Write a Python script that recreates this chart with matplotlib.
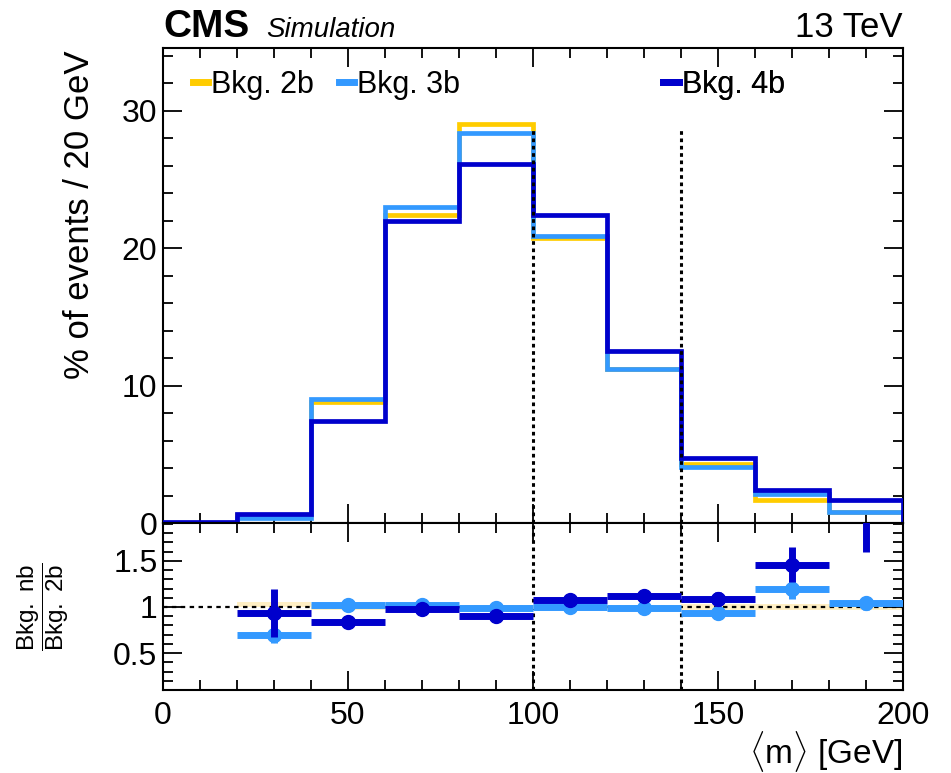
import numpy as np
import matplotlib
matplotlib.use("Agg")
import matplotlib.pyplot as plt
from matplotlib.lines import Line2D
from matplotlib.ticker import MultipleLocator

plt.rcParams["font.family"] = ["Liberation Sans", "DejaVu Sans"]
plt.rcParams["mathtext.fontset"] = "custom"
plt.rcParams["mathtext.rm"] = "Liberation Sans"
plt.rcParams["mathtext.it"] = "Liberation Sans:italic"

# Bin edges of <m> [GeV]
bin_edges = [0, 20, 40, 60, 80, 100, 120, 140, 160, 180, 200]

# % of events per bin
bkg_2b = [0.0, 0.6, 8.8, 22.4, 29.0, 20.7, 11.2, 4.3, 1.7, 0.78]
bkg_3b = [0.0, 0.4, 9.0, 23.0, 28.4, 20.9, 11.2, 4.1, 2.1, 0.80]
bkg_4b = [0.1, 0.65, 7.4, 22.0, 26.1, 22.4, 12.5, 4.7, 2.4, 1.65]

# ratio points to Bkg. 2b (bin centres 30..190)
ratio_x = [30, 50, 70, 90, 110, 130, 150, 170, 190]
ratio_3b = [0.70, 1.02, 1.02, 0.99, 1.00, 0.985, 0.93, 1.19, 1.04]
ratio_3b_err = [0.09, 0.02, 0.02, 0.02, 0.02, 0.02, 0.03, 0.10, 0.07]
ratio_4b = [0.93, 0.835, 0.98, 0.905, 1.08, 1.115, 1.085, 1.46, 2.15]
ratio_4b_err = [0.26, 0.02, 0.02, 0.02, 0.02, 0.02, 0.08, 0.19, 0.55]
# uncertainty band of Bkg. 2b around 1
band_lo = [1.00, 0.97, 0.98, 0.98, 0.98, 0.98, 0.97, 0.97, 0.97]
band_hi = [1.05, 1.03, 1.02, 1.02, 1.02, 1.02, 1.03, 1.03, 1.03]

signal_edges = [100, 140]

c_2b = "#FFCC00"
c_3b = "#3399FF"
c_4b = "#0000CC"

fig = plt.figure(figsize=(9.51, 7.73), dpi=100)
ax = fig.add_axes([0.1714, 0.3234, 0.7781, 0.6145])
rax = fig.add_axes([0.1714, 0.1074, 0.7781, 0.2160], sharex=ax)

edges = np.array(bin_edges)
ax.stairs(bkg_2b, edges, color=c_2b, lw=3.4, zorder=3)
ax.stairs(bkg_3b, edges, color=c_3b, lw=3.4, zorder=4)
ax.stairs(bkg_4b, edges, color=c_4b, lw=3.4, zorder=5)

for xv in signal_edges:
    ax.plot([xv, xv], [0, 28.8], color="black", ls=(0, (1.2, 1.2)), lw=2.2, zorder=6)
    rax.axvline(xv, color="black", ls=(0, (1.2, 1.2)), lw=2.2, zorder=1)

ax.set_xlim(0, 200)
ax.set_ylim(0, 34.55)

# ratio panel
rx = np.array(ratio_x)
rax.fill_between(edges[1:], np.r_[band_lo[0], band_lo], np.r_[band_hi[0], band_hi],
                 step="pre", color="#FFEFC4", lw=0, zorder=1)
rax.axhline(1.0, color="black", ls=(0, (2, 2)), lw=1.6, zorder=2)
rax.errorbar(rx, ratio_3b, xerr=10, yerr=ratio_3b_err, fmt="o", color=c_3b,
             ms=10, elinewidth=5, capsize=0, zorder=3)
rax.errorbar(rx, ratio_4b, xerr=10, yerr=ratio_4b_err, fmt="o", color=c_4b,
             ms=10, elinewidth=5, capsize=0, zorder=4)
rax.set_ylim(0.1, 1.91)

for a in (ax, rax):
    a.tick_params(which="both", direction="in", top=True, right=True,
                  labelsize=23, width=1.3)
    a.tick_params(which="major", length=14)
    a.tick_params(which="minor", length=7)
    a.tick_params(axis="y", pad=4)
    a.tick_params(axis="x", pad=8)
    for s in a.spines.values():
        s.set_linewidth(1.5)
    a.xaxis.set_major_locator(MultipleLocator(50))
    a.xaxis.set_minor_locator(MultipleLocator(10))

ax.yaxis.set_major_locator(MultipleLocator(10))
ax.yaxis.set_minor_locator(MultipleLocator(2))
rax.yaxis.set_major_locator(MultipleLocator(0.5))
rax.yaxis.set_minor_locator(MultipleLocator(0.1))
rax.set_yticks([0.5, 1.0, 1.5])
rax.set_yticklabels(["0.5", "1", "1.5"])
plt.setp(ax.get_xticklabels(), visible=False)

# legends (three separate entries, uneven spacing like the original)
for label, col, xpos in [("Bkg. 2b", c_2b, 0.040), ("Bkg. 3b", c_3b, 0.238),
                         ("Bkg. 4b", c_4b, 0.676)]:
    h = Line2D([], [], color=col, lw=5)
    leg = ax.legend([h], [label], loc="center left", bbox_to_anchor=(xpos, 0.922),
                    frameon=False, fontsize=22, handlelength=0.5,
                    handletextpad=0.1, borderpad=0, borderaxespad=0)
    ax.add_artist(leg)

fig.text(0.1714, 0.952, "CMS", fontsize=28, fontweight="bold", ha="left", va="baseline")
fig.text(0.2800, 0.952, "Simulation", fontsize=20, style="italic", ha="left", va="baseline")
fig.text(0.9495, 0.952, "13 TeV", fontsize=25, ha="right", va="baseline")

fig.text(0.084, 0.935, "% of events / 20 GeV", fontsize=25, rotation=90,
         ha="center", va="top")
fig.text(0.045, 0.215, r"$\dfrac{\mathrm{Bkg.\ nb}}{\mathrm{Bkg.\ 2b}}$", fontsize=17.5,
         rotation=90, ha="center", va="center")
fig.text(0.9495, 0.057, r"$\langle\mathrm{m}\rangle$ [GeV]", fontsize=24,
         ha="right", va="top")

fig.savefig("out.png", dpi=100)
